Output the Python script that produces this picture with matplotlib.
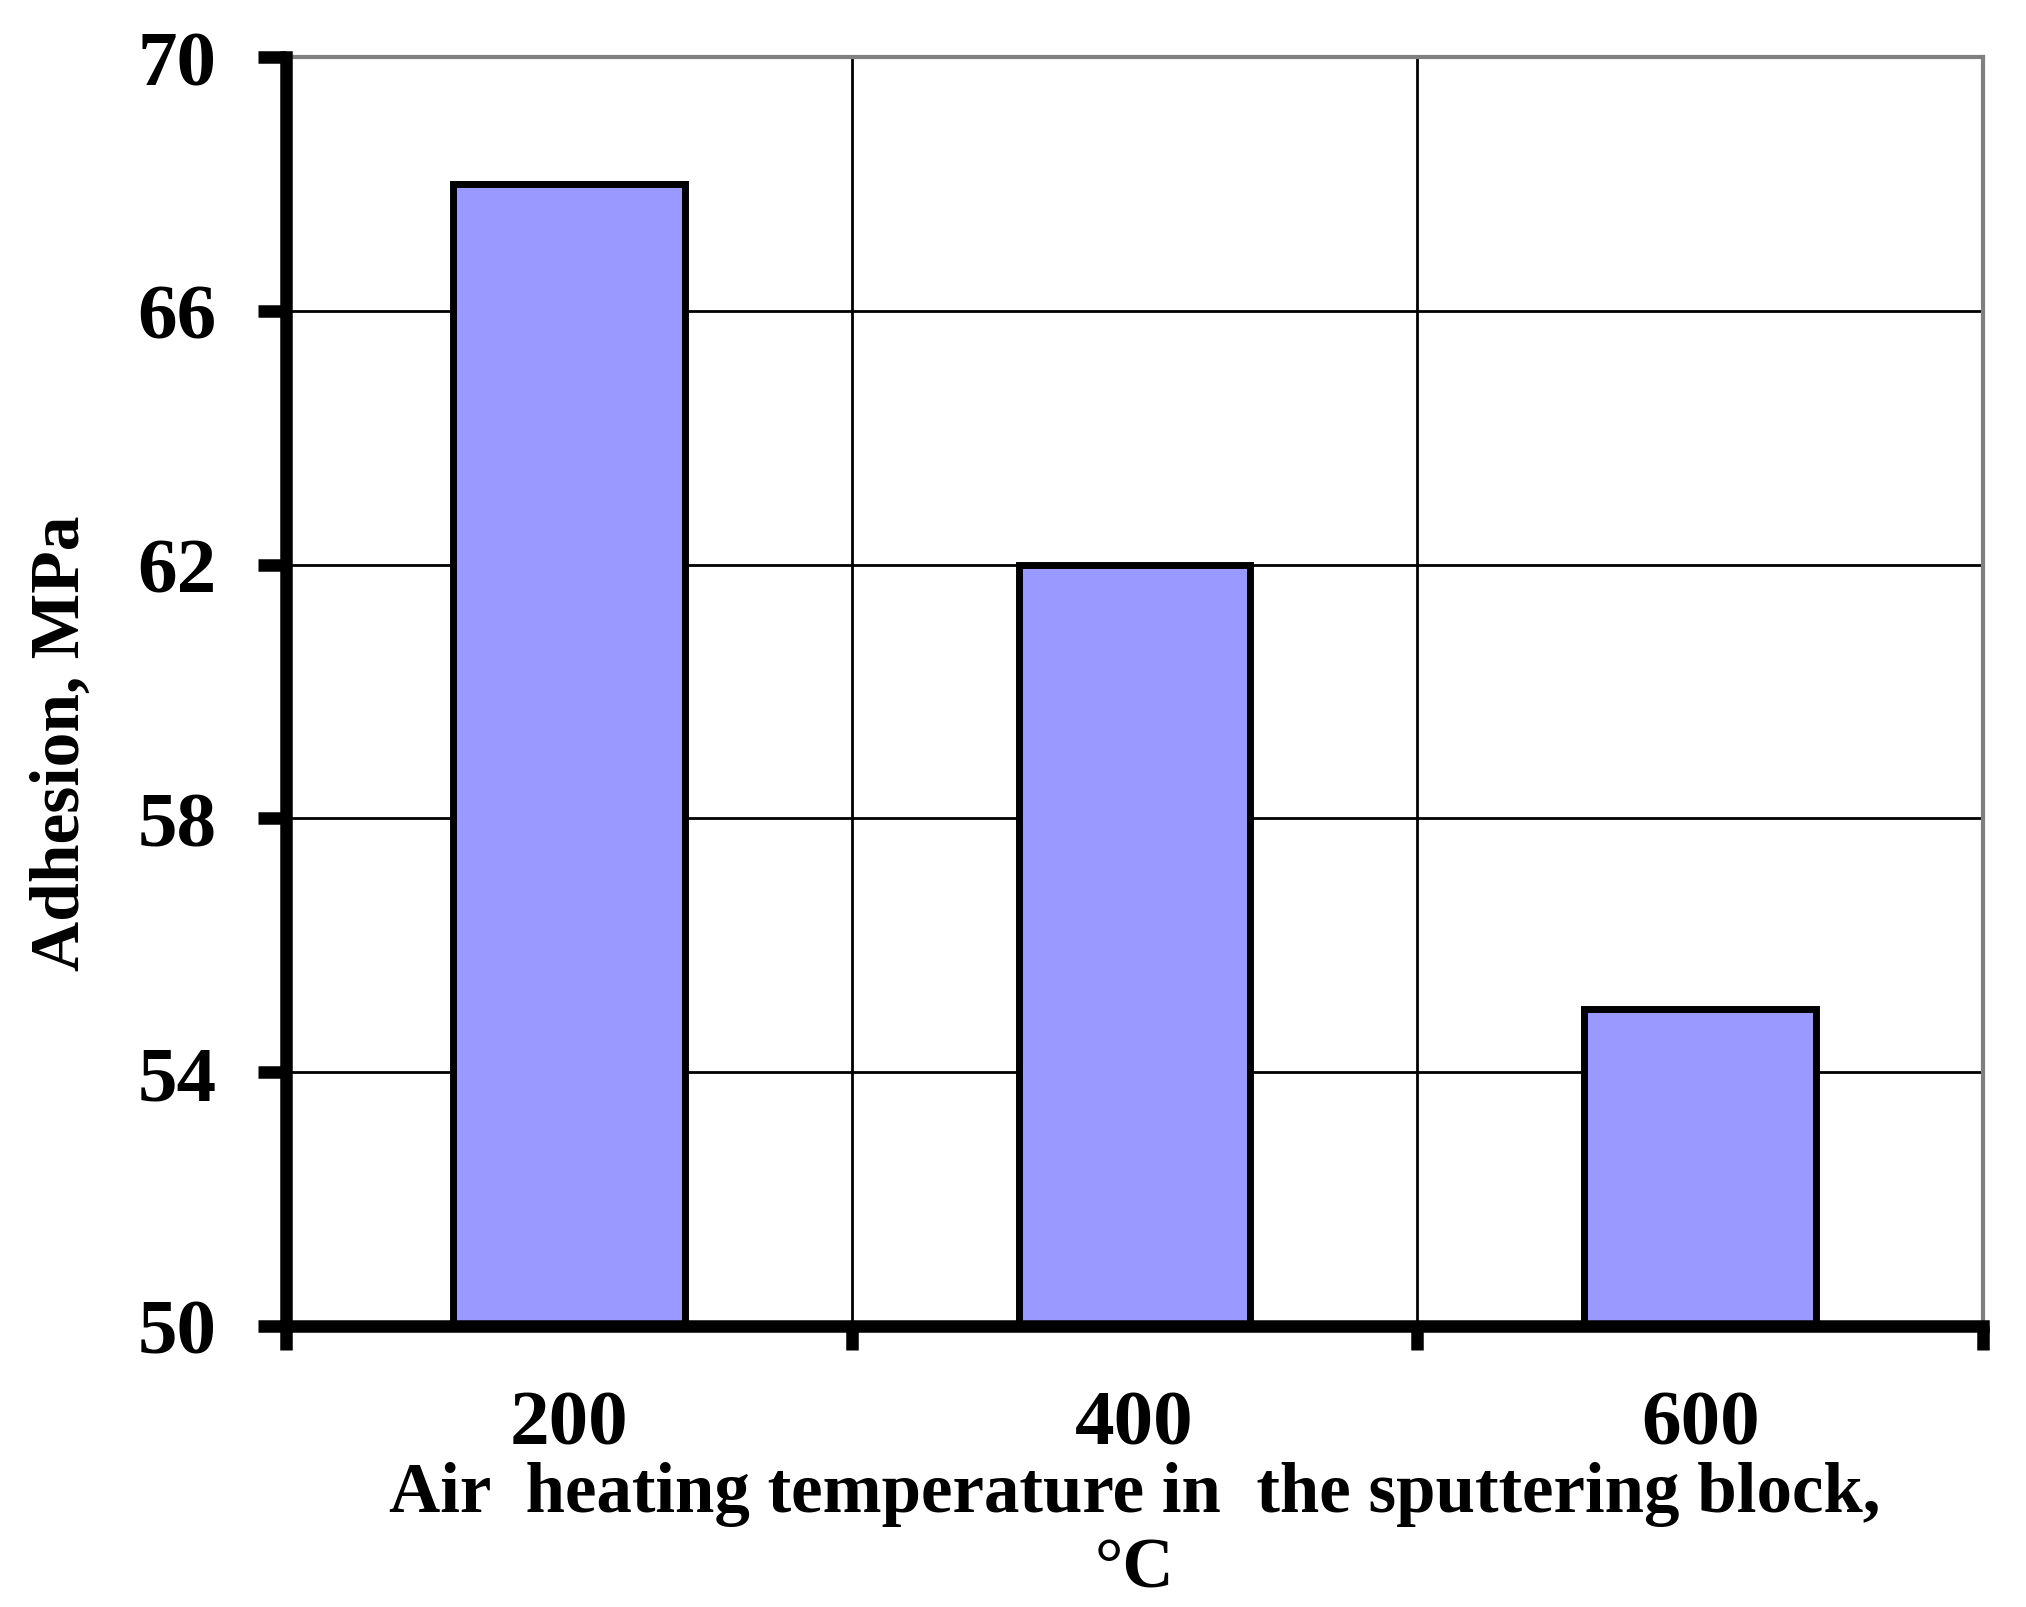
import matplotlib
matplotlib.use("Agg")
import matplotlib.pyplot as plt
from matplotlib.ticker import FixedLocator

categories = ["200", "400", "600"]
adhesion = [68, 62, 55]
y_ticks = [50, 54, 58, 62, 66, 70]

plt.rcParams['font.family'] = ['Liberation Serif', 'DejaVu Serif']
plt.rcParams['font.weight'] = 'bold'

fig = plt.figure(figsize=(20.26, 16.08), dpi=100)
ax = fig.add_axes([286/2026, 1 - 1327/1608, (1983-286)/2026, (1327-58)/1608])

x = list(range(len(categories)))
ax.bar(x, adhesion, width=0.41, color='#9999FF', edgecolor='black', linewidth=5, zorder=3)

ax.set_ylim(50, 70)
ax.set_xlim(-0.5, len(categories) - 0.5)
ax.set_yticks(y_ticks)
ax.set_yticklabels([str(v) for v in y_ticks], fontsize=57, fontweight='bold')
ax.set_xticks(x)
ax.set_xticklabels(categories, fontsize=57, fontweight='bold')
ax.tick_params(axis='x', which='major', length=0, pad=46)
ax.xaxis.set_minor_locator(FixedLocator([i - 0.5 for i in range(len(categories) + 1)]))
ax.tick_params(axis='x', which='minor', length=17, width=9, direction='out', color='black')
ax.tick_params(axis='y', which='major', length=20, width=9, direction='out', pad=30, color='black')

# grid
ax.grid(axis='y', color='black', linewidth=2.0, zorder=0)
ax.grid(axis='x', which='minor', color='black', linewidth=2.0, zorder=0)
ax.set_axisbelow(True)

for s in ['left', 'bottom']:
    ax.spines[s].set_linewidth(9)
    ax.spines[s].set_color('black')
    ax.spines[s].set_zorder(5)
for s in ['top', 'right']:
    ax.spines[s].set_linewidth(3)
    ax.spines[s].set_color('#808080')

ax.set_ylabel("Adhesion, MPa", fontsize=50, fontweight='bold')
ax.yaxis.set_label_coords(-0.113, 0.46)
ax.set_xlabel("Air  heating temperature in  the sputtering block,\n\u00b0C", fontsize=51,
              fontweight='bold', linespacing=1.22)
ax.xaxis.set_label_coords(0.5, -0.106)

fig.savefig("out.png", dpi=100)
